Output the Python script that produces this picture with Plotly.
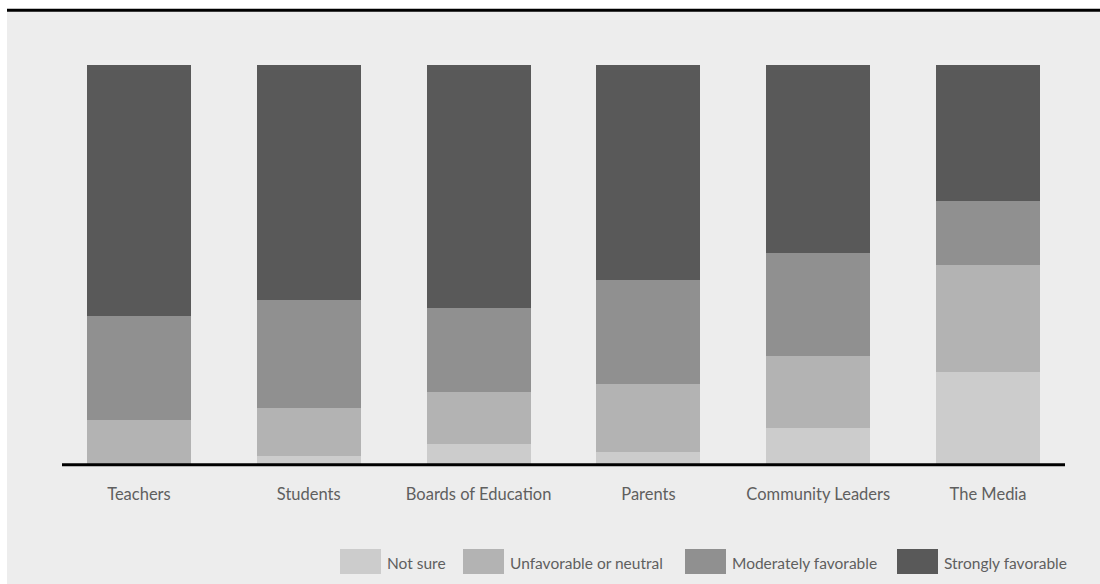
import plotly.graph_objects as go

# Survey shares (percent of respondents) per group
categories = ["Teachers", "Students", "Boards of Education", "Parents",
              "Community Leaders", "The Media"]
not_sure = [0, 2, 5, 3, 9, 23]
unfavorable = [11, 12, 13, 17, 18, 27]
moderately = [26, 27, 21, 26, 26, 16]
strongly = [63, 59, 61, 54, 47, 34]

series_names = ["Not sure", "Unfavorable or neutral",
                "Moderately favorable", "Strongly favorable"]
series_values = [not_sure, unfavorable, moderately, strongly]
series_colors = ["#cccccc", "#b3b3b3", "#909090", "#595959"]

W, H = 1100, 584
ML, MR, MT, MB = 54, 27, 65, 120
PW, PH = W - ML - MR, H - MT - MB
FONT = "Lato, 'Open Sans', sans-serif"
TEXT_COLOR = "#5f5f5f"


def px_x(p):
    return (p - ML) / PW


def px_y(p):
    return (H - MB - p) / PH


fig = go.Figure()
for name, vals, col in zip(series_names, series_values, series_colors):
    fig.add_trace(go.Bar(x=categories, y=vals, name=name,
                         marker=dict(color=col, line=dict(width=0)),
                         showlegend=False, hoverinfo="x+y+name"))

shapes = [
    # grey panel and the rule across its top
    dict(type="rect", xref="paper", yref="paper", layer="below",
         x0=px_x(7), x1=px_x(W + 2), y0=px_y(10), y1=px_y(H + 2),
         fillcolor="#ededed", line=dict(width=0)),
    dict(type="line", xref="paper", yref="paper",
         x0=px_x(7), x1=px_x(W + 2), y0=px_y(10.3), y1=px_y(10.3),
         line=dict(color="#000000", width=3)),
    # baseline under the bars
    dict(type="line", xref="paper", yref="paper",
         x0=px_x(62), x1=px_x(1065), y0=px_y(464.7), y1=px_y(464.7),
         line=dict(color="#000000", width=3)),
]

annotations = []
legend_x = [340, 463, 685, 897]
box_w, box_top, box_bot = 41, 549, 574
for name, col, x0 in zip(series_names, series_colors, legend_x):
    shapes.append(dict(type="rect", xref="paper", yref="paper",
                       x0=px_x(x0), x1=px_x(x0 + box_w),
                       y0=px_y(box_bot), y1=px_y(box_top),
                       fillcolor=col, line=dict(width=0)))
    annotations.append(dict(xref="paper", yref="paper",
                            x=px_x(x0 + box_w + 4), y=px_y(563),
                            xanchor="left", yanchor="middle",
                            text=name, showarrow=False,
                            font=dict(family=FONT, size=15.5, color=TEXT_COLOR)))

fig.update_layout(
    width=W, height=H,
    margin=dict(l=ML, r=MR, t=MT, b=MB),
    barmode="stack", bargap=0.3875,
    paper_bgcolor="#ffffff", plot_bgcolor="#ededed",
    showlegend=False,
    shapes=shapes, annotations=annotations,
    font=dict(family=FONT, color=TEXT_COLOR),
    xaxis=dict(showgrid=False, zeroline=False, showline=False, ticks="",
               range=[-0.5, 5.5], ticklabelstandoff=18,
               tickfont=dict(family=FONT, size=16.5, color=TEXT_COLOR)),
    yaxis=dict(range=[0, 100], showgrid=False, zeroline=False,
               showline=False, showticklabels=False, ticks=""),
)

fig.write_html("out.html")
